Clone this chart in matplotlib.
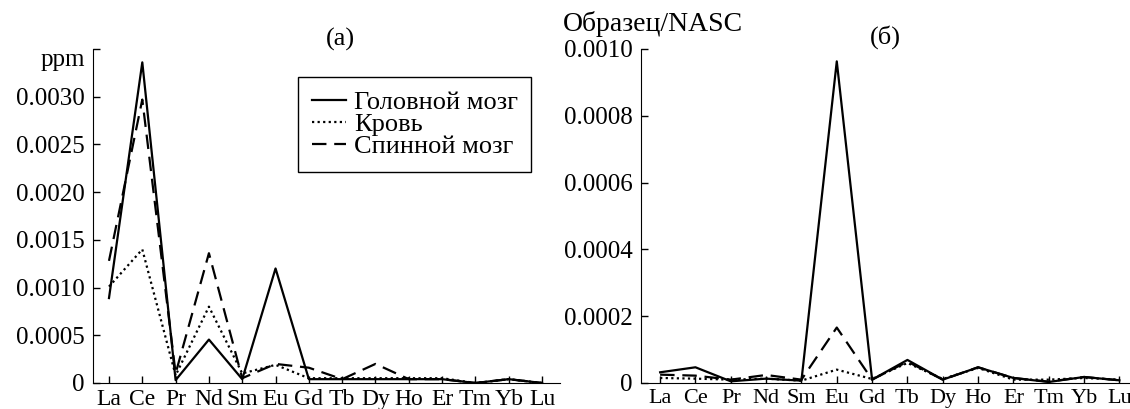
import numpy as np
import matplotlib
matplotlib.use("Agg")
import matplotlib.pyplot as plt

plt.rcParams['font.family'] = ['Liberation Serif', 'DejaVu Serif']

elements = ["La", "Ce", "Pr", "Nd", "Sm", "Eu", "Gd", "Tb", "Dy", "Ho", "Er", "Tm", "Yb", "Lu"]

# (a) ppm
brain_a = [0.00089, 0.00336, 0.00003, 0.000455, 0.00004, 0.0012, 0.00004,
           0.00004, 0.00004, 0.00004, 0.00004, 0.0, 0.00004, 0.0]
blood_a = [0.00101, 0.0014, 0.00008, 0.0008, 0.0001, 0.00019, 0.00005,
           0.00005, 0.00005, 0.00005, 0.00005, 0.0, 0.00004, 0.0]
spine_a = [0.00128, 0.00297, 0.0001, 0.00136, 0.00005, 0.0002, 0.00016,
           0.00004, 0.0002, 0.00004, 0.00004, 0.0, 0.00004, 0.0]

# (б) sample/NASC
brain_b = [0.000032, 0.000047, 0.000005, 0.000013, 0.000007, 0.000963, 0.00001,
           0.000069, 0.00001, 0.000047, 0.000015, 0.000003, 0.000018, 0.000008]
blood_b = [0.000015, 0.000013, 0.00001, 0.000013, 0.000007, 0.00004, 0.000012,
           0.00006, 0.000012, 0.000045, 0.00001, 0.00001, 0.000015, 0.00001]
spine_b = [0.000025, 0.000022, 0.00001, 0.000024, 0.00001, 0.000166, 0.00001,
           0.000064, 0.00001, 0.000047, 0.000015, 0.000004, 0.000018, 0.000008]

labels = ["Головной мозг", "Кровь", "Спинной мозг"]
styles = ["-", (0, (1, 1.5)), (0, (6.5, 3.5))]

fig = plt.figure(figsize=(11.3, 4.09), dpi=100)
ax1 = fig.add_axes([0.0823, 0.0636, 0.4133, 0.8166])
ax2 = fig.add_axes([0.5673, 0.0636, 0.4327, 0.8166])

x = np.arange(len(elements))
for ax, series in ((ax1, (brain_a, blood_a, spine_a)), (ax2, (brain_b, blood_b, spine_b))):
    for s, ls, lab in zip(series, styles, labels):
        ax.plot(x, s, color="black", linestyle=ls, lw=1.6, label=lab)
    ax.spines["top"].set_visible(False)
    ax.spines["right"].set_visible(False)
    ax.set_xticks(x)
    ax.tick_params(direction="in", length=5, width=1, pad=4)
    ax.tick_params(axis="y", labelsize=18, pad=6)

ax1.set_xticklabels(elements, fontsize=17)
ax2.set_xticklabels(elements, fontsize=16)

ax1.set_xlim(-0.48, 13.54)
ax1.set_ylim(0, 0.0035)
yt1 = [0, 0.0005, 0.001, 0.0015, 0.002, 0.0025, 0.003, 0.0035]
ax1.set_yticks(yt1)
ax1.set_yticklabels(["0"] + ["%.4f" % v for v in yt1[1:-1]] + ["ppm"])
ax1.get_yticklabels()[-1].set_verticalalignment("top")
ax1.text(0.53, 0.995, "(a)", transform=ax1.transAxes, ha="center", va="bottom", fontsize=19)
leg = ax1.legend(loc="upper left", bbox_to_anchor=(0.44, 0.915), fontsize=19,
                 frameon=True, fancybox=False, edgecolor="black", framealpha=1,
                 handlelength=1.3, handletextpad=0.3, labelspacing=-0.05,
                 borderpad=0.5, borderaxespad=0)
leg.get_frame().set_linewidth(1.0)

ax2.set_xlim(-0.54, 13.3)
ax2.set_ylim(0, 0.001)
yt2 = [0, 0.0002, 0.0004, 0.0006, 0.0008, 0.001]
ax2.set_yticks(yt2)
ax2.set_yticklabels(["0"] + ["%.4f" % v for v in yt2[1:]])
ax2.text(0.5, 1.0, "(б)", transform=ax2.transAxes, ha="center", va="bottom", fontsize=19)
fig.text(563 / 1130, 1 - 24 / 409, "Образец/NASC", ha="left", va="center", fontsize=20)

fig.savefig("out.png", dpi=100)
